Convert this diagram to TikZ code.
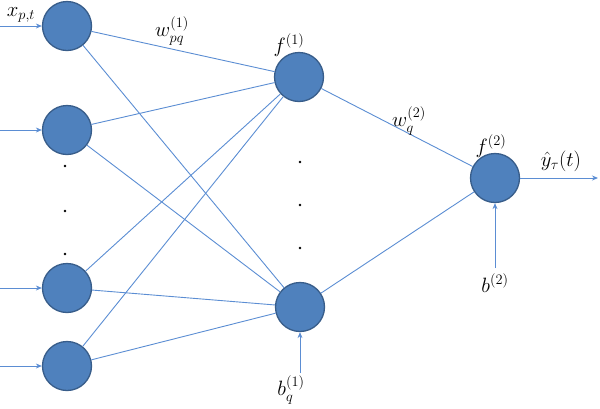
\documentclass[tikz,border=0pt]{standalone}
\usetikzlibrary{arrows.meta}
\definecolor{nfill}{HTML}{4F81BD}
\definecolor{nborder}{HTML}{385D8A}
\definecolor{lcol}{HTML}{5B8DD3}
\newcommand{\upsup}[1]{^{\raisebox{1.5pt}{$\scriptstyle #1$}}}
\newcommand{\dnsub}[1]{_{\raisebox{-1pt}{$\scriptstyle #1$}}}
\begin{document}
\begin{tikzpicture}[x=1pt,y=-1pt,
  neuron/.style={circle, fill=nfill, draw=nborder, line width=1.3pt, minimum size=49pt, inner sep=0pt},
  conn/.style={draw=lcol, line width=0.9pt},
  arr/.style={conn, -{Stealth[length=6pt,width=5pt]}},
  lab/.style={font=\fontsize{20}{22}\selectfont, inner sep=0pt},
  dot/.style={circle, fill=black, inner sep=0pt, minimum size=2.8pt}]
\useasboundingbox (0,0) rectangle (600,408);
% input neurons
\node[neuron] (i1) at (67,26) {};
\node[neuron] (i2) at (67,130) {};
\node[neuron] (i3) at (67,288) {};
\node[neuron] (i4) at (67,366) {};
% hidden neurons
\node[neuron] (h1) at (299,77) {};
\node[neuron] (h2) at (300,307) {};
% output neuron
\node[neuron] (o) at (495,178) {};
% dots
\node[dot] (d1) at (65,166) {};
\node[dot] (d2) at (65,211) {};
\node[dot] (d3) at (65,254) {};
\node[dot] (d4) at (300,162) {};
\node[dot] (d5) at (300,205) {};
\node[dot] (d6) at (300,248) {};
% input arrows
\coordinate (s1) at (0,26);
\coordinate (s2) at (0,130);
\coordinate (s3) at (0,288);
\coordinate (s4) at (0,366);
\draw[arr] (s1) -- (i1);
\draw[arr] (s2) -- (i2);
\draw[arr] (s3) -- (i3);
\draw[arr] (s4) -- (i4);
% input to hidden
\foreach \i in {i1,i2,i3,i4}{
  \draw[conn] (\i) -- (h1);
  \draw[conn] (\i) -- (h2);
}
% hidden to output
\draw[conn] (h1) -- (o);
\draw[conn] (h2) -- (o);
% output arrow
\coordinate (out) at (598,178);
\draw[arr] (o) -- (out);
% biases
\coordinate (bq) at (300,373);
\coordinate (b2) at (495,268);
\draw[arr] (bq) -- (h2);
\draw[arr] (b2) -- (o);
% labels
\node[lab] (lx) at (21,15) {$x_{p,t}$};
\node[lab] (lw1) at (172,31) {$w\upsup{(1)}\dnsub{pq}$};
\node[lab] (lf1) at (289,45) {$f^{(1)}$};
\node[lab] (lw2) at (409,121) {$w\upsup{(2)}\dnsub{q}$};
\node[lab] (lf2) at (491,146) {$f^{(2)}$};
\node[lab] (ly) at (561,161) {$\hat{y}_{\tau}(t)$};
\node[lab] (lbq) at (291,390) {$b\upsup{(1)}\dnsub{q}$};
\node[lab] (lb2) at (495,283) {$b^{(2)}$};
\end{tikzpicture}
\end{document}
